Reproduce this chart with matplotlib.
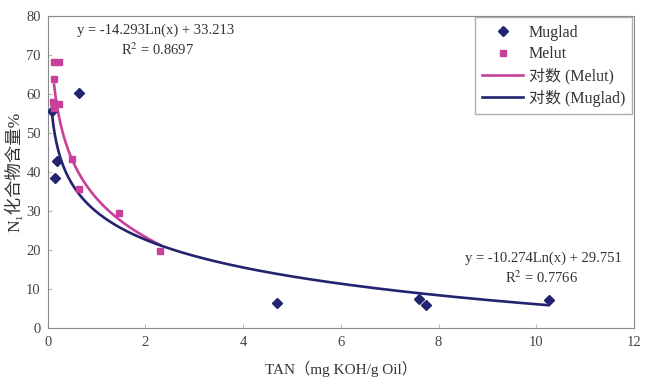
import numpy as np
import matplotlib.pyplot as plt

plt.rcParams['font.family'] = ['Liberation Serif', 'Noto Sans CJK SC', 'DejaVu Sans']
plt.rcParams['mathtext.fontset'] = 'stix'

# TAN (mg KOH/g Oil) vs N1 compound content (%)
muglad_tan = [0.08, 0.18, 0.14, 0.64, 4.7, 7.6, 7.75, 10.25]
muglad_n1 = [55.6, 42.8, 38.4, 60.3, 6.3, 7.5, 6.0, 7.3]

melut_tan = [0.13, 0.23, 0.13, 0.1, 0.23, 0.13, 0.5, 0.64, 1.45, 2.3]
melut_n1 = [68.2, 68.2, 63.8, 58.0, 57.4, 56.5, 43.3, 35.6, 29.5, 19.7]

# log trendlines y = a*ln(x) + b
melut_fit = (-14.293, 33.213, 0.8697)
muglad_fit = (-10.274, 29.751, 0.7766)

navy = '#24236f'
magenta = '#c8409a'


def main():
    fig = plt.figure(figsize=(6.45, 3.83), dpi=100)
    ax = fig.add_axes([0.074, 0.1436, 0.909, 0.815])

    # trendlines over each data range
    xm = np.linspace(0.13, max(melut_tan), 200)
    xg = np.linspace(min(muglad_tan), max(muglad_tan), 300)
    ax.plot(xm, melut_fit[0] * np.log(xm) + melut_fit[1], color=magenta, lw=1.9,
            label='对数 (Melut)', zorder=2)
    ax.plot(xg, muglad_fit[0] * np.log(xg) + muglad_fit[1], color=navy, lw=1.9,
            label='对数 (Muglad)', zorder=2)

    ax.plot(muglad_tan, muglad_n1, 'D', color=navy, ms=5.5, ls='none',
            label='Muglad', zorder=3)
    ax.plot(melut_tan, melut_n1, 's', color=magenta, ms=5, ls='none',
            label='Melut', zorder=3)

    ax.text(2.2, 76.3, 'y = -14.293Ln(x) + 33.213', ha='center', va='center',
            fontsize=10.5, color='#333333')
    ax.text(2.25, 71.4, 'R$^2$ = 0.8697', ha='center', va='center',
            fontsize=10.5, color='#333333')
    ax.text(10.15, 18.0, 'y = -10.274Ln(x) + 29.751', ha='center', va='center',
            fontsize=10.5, color='#333333')
    ax.text(10.1, 12.8, 'R$^2$ = 0.7766', ha='center', va='center',
            fontsize=10.5, color='#333333')

    ax.set_xlim(0, 12)
    ax.set_ylim(0, 80)
    ax.set_xticks(range(0, 13, 2))
    ax.set_yticks(range(0, 81, 10))
    ax.tick_params(labelsize=10.5, labelcolor='#444444', color='#bbbbbb',
                   direction='in', length=3, width=0.8)
    ax.tick_params(axis='x', pad=6)
    ax.tick_params(axis='y', pad=5)
    for side in ax.spines:
        ax.spines[side].set_color('#8a8a8a')

    ax.set_xlabel('TAN（mg KOH/g Oil）', fontsize=11, color='#333333', labelpad=8)
    ax.set_ylabel('N₁化合物含量%', fontsize=12.5, color='#333333', labelpad=2)

    h, l = ax.get_legend_handles_labels()
    order = [2, 3, 0, 1]
    leg = ax.legend([h[i] for i in order], [l[i] for i in order], loc='upper right',
                    bbox_to_anchor=(1.0, 1.0), fontsize=11.5, fancybox=False,
                    edgecolor='#999999', handlelength=2.6, handletextpad=0.35,
                    borderpad=0.45, labelspacing=0.35, borderaxespad=0.1)
    for t in leg.get_texts():
        t.set_color('#333333')

    fig.savefig('out.png', dpi=100)


if __name__ == '__main__':
    main()
